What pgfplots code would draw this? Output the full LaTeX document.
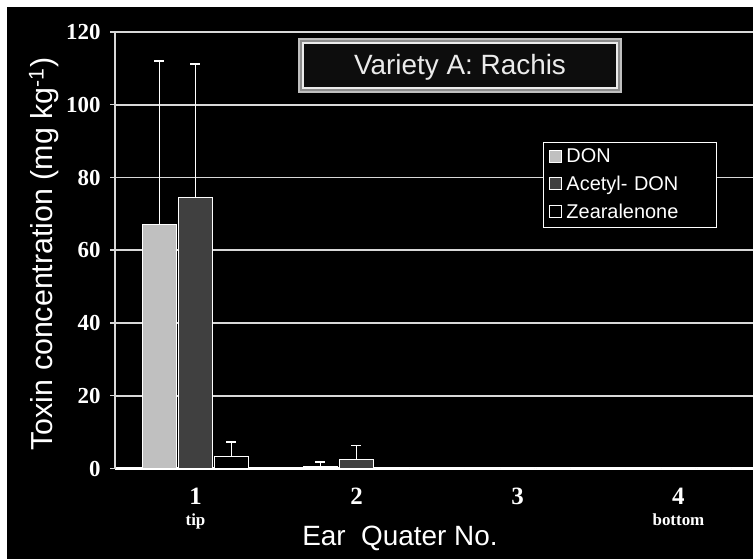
\documentclass[border=0pt]{standalone}
\usepackage{pgfplots}
\pgfplotsset{compat=1.18}
\usepackage{pgfplotstable}
\usepackage{fontspec}
\setmainfont{Liberation Sans}
\newfontfamily\serifb{Liberation Serif}
\definecolor{donfill}{HTML}{C0C0C0}
\definecolor{acefill}{HTML}{404040}
\definecolor{gridc}{HTML}{D8D8D8}

\pgfplotstableread{
x y e
1 67.0 45.0
2 0.4 1.3
3 0 0
4 0 0
}\don
\pgfplotstableread{
x y e
1 74.6 36.5
2 2.5 3.8
3 0 0
4 0 0
}\ace
\pgfplotstableread{
x y e
1 3.2 4.0
2 0 0
3 0 0
4 0 0
}\zea

\pgfplotsset{
  myerr/.style={error bars/y dir=plus, error bars/y explicit,
    error bars/error mark=-,
    error bars/error bar style={white, line width=1.8bp},
    error bars/error mark options={white, rotate=90, mark size=5bp, line width=1.8bp}},
}

\begin{document}
\begin{tikzpicture}
\fill[white] (0,0) rectangle (753bp,559bp);
\fill[black] (7bp,0) rectangle (753bp,552bp);
\path[use as bounding box] (0,0) rectangle (753bp,559bp);
\begin{axis}[
  at={(115bp,90.5bp)}, anchor=south west,
  scale only axis, width=638bp, height=436.5bp,
  xmin=0.5, xmax=4.463, ymin=0, ymax=120,
  ybar=2bp, bar width=34bp,
  axis lines*=left,
  x axis line style={white, line width=2.5bp},
  y axis line style={gridc, line width=1.5bp},
  ytick={0,20,...,120},
  xtick={1,2,3,4},
  xticklabels={{\fontsize{25}{25}\selectfont 1\\[9bp]\fontsize{17}{17}\selectfont tip},
               {\fontsize{25}{25}\selectfont 2},
               {\fontsize{25}{25}\selectfont 3},
               {\fontsize{25}{25}\selectfont 4\\[9bp]\fontsize{17}{17}\selectfont bottom}},
  xticklabel style={align=center, text=white, font=\serifb\bfseries, anchor=north, yshift=-11bp},
  yticklabel style={text=white, font=\serifb\bfseries\fontsize{23}{23}\selectfont, xshift=-6bp},
  /pgf/number format/assume math mode=true,
  xtick style={draw=none},
  minor xtick={0.5,1.5,2.5,3.5},
  minor x tick style={white, line width=1.5bp, yshift=-3.5bp},
  minor tick length=7bp,
  major tick length=10bp,
  tick align=center,
  ytick style={gridc, line width=1.5bp},
  ymajorgrids,
  major grid style={gridc, line width=1.8bp},
  legend style={at={(0.671,0.748)}, anchor=north west, fill=black, draw=white,
    line width=1.2bp, text=white, font=\fontsize{20}{20}\selectfont,
    row sep=6.5bp, inner xsep=5bp, inner ysep=4bp,
    /tikz/every odd column/.append style={column sep=3bp},
    nodes={text width=143bp, text depth=3bp}},
  legend cell align=left,
]
\addplot[fill=donfill, draw=white, line width=1.2bp, myerr,
  legend image code/.code={\draw[fill=donfill, draw=white, line width=0.8bp] (3bp,-5bp) rectangle (15bp,7bp);}]
  table[x=x, y=y, y error=e] {\don};
\addlegendentry{DON}
\addplot[fill=acefill, draw=white, line width=1.2bp, myerr,
  legend image code/.code={\draw[fill=acefill, draw=white, line width=0.8bp] (3bp,-5bp) rectangle (15bp,7bp);}]
  table[x=x, y=y, y error=e] {\ace};
\addlegendentry{Acetyl- DON}
\addplot[fill=black, draw=white, line width=1.2bp, myerr,
  legend image code/.code={\draw[fill=black, draw=white, line width=0.8bp] (3bp,-5bp) rectangle (15bp,7bp);}]
  table[x=x, y=y, y error=e] {\zea};
\addlegendentry{Zearalenone}
\end{axis}
% title box
\fill[black!25] (298bp,466bp) rectangle (622bp,521bp);
\fill[black!45] (300bp,468bp) rectangle (620bp,519bp);
\fill[black!8] (302bp,470bp) rectangle (618bp,517bp);
\fill[black!95] (304bp,472bp) rectangle (616bp,515bp);
\node[anchor=base, text=black!8, font=\fontsize{28}{28}\selectfont] at (460bp,484bp) {Variety A: Rachis};
% axis titles
\node[rotate=90, text=white, font=\fontsize{30.5}{30.5}\selectfont] at (44bp,305bp) {Toxin concentration (mg kg\textsuperscript{-1})};
\node[anchor=base, text=white, font=\fontsize{28}{28}\selectfont] at (400bp,14bp) {Ear\ \ Quater No.};
\end{tikzpicture}
\end{document}
